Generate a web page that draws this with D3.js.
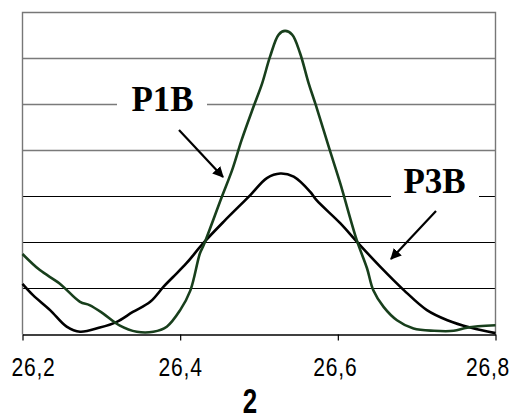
<!DOCTYPE html>
<html lang="en">
<head>
    <meta charset="UTF-8">
    <title>P1B / P3B</title>
    <script src="https://d3js.org/d3.v7.min.js"></script>
    <style>
        body {
            margin: 0;
            background-color: white;
        }

        /* no narrow font installed, so the regular sans is squeezed with scale() */
        .tick-label {
            font-family: "Liberation Sans", Arial, sans-serif;
            font-size: 26px;
            letter-spacing: 1px;
            fill: #000;
        }

        .axis-title {
            font-family: "Liberation Sans", Arial, sans-serif;
            font-size: 36px;
            font-weight: bold;
            fill: #000;
        }

        .series-label {
            font-family: "Liberation Serif", "Times New Roman", serif;
            font-size: 35px;
            font-weight: bold;
            fill: #000;
        }
    </style>
</head>
<body>
    <div id="chart"></div>

    <script>
        // P1B (green) and P3B (black)
        const p1bX = [26.200, 26.222, 26.247, 26.273, 26.285, 26.302, 26.323, 26.345, 26.366, 26.383,
                      26.400, 26.413, 26.425, 26.430, 26.453, 26.466, 26.478, 26.493, 26.504, 26.514,
                      26.525, 26.533, 26.542, 26.552, 26.563, 26.572, 26.589, 26.603, 26.624, 26.637,
                      26.645, 26.658, 26.675, 26.696, 26.722, 26.747, 26.764, 26.800];
        const p1bY = [1.75, 1.40, 1.11, 0.71, 0.64, 0.46, 0.20, 0.06, 0.06, 0.17,
                      0.53, 0.96, 1.76, 1.95, 3.00, 3.58, 4.23, 4.95, 5.46, 6.04,
                      6.52, 6.60, 6.52, 6.12, 5.46, 4.99, 4.05, 3.29, 2.05, 1.44,
                      0.96, 0.60, 0.31, 0.13, 0.08, 0.08, 0.15, 0.20];

        const p3bX = [26.200, 26.213, 26.235, 26.256, 26.273, 26.298, 26.319, 26.340, 26.362, 26.379,
                      26.391, 26.408, 26.429, 26.455, 26.489, 26.510, 26.527, 26.544, 26.565, 26.573,
                      26.603, 26.624, 26.654, 26.684, 26.713, 26.739, 26.768, 26.800];
        const p3bY = [1.10, 0.86, 0.53, 0.17, 0.06, 0.15, 0.27, 0.49, 0.71, 1.04,
                      1.25, 1.55, 1.98, 2.45, 3.03, 3.40, 3.50, 3.43, 3.10, 2.92,
                      2.42, 2.02, 1.47, 0.96, 0.53, 0.31, 0.15, 0.03];

        const xTicks = [26.2, 26.4, 26.6, 26.8];
        const xTickLabels = ["26,2", "26,4", "26,6", "26,8"];
        const yGrid = [1, 2, 3, 4, 5, 6];
        const xTitle = "2";

        const width = 513;
        const height = 416;

        const svg = d3.select("#chart").append("svg")
            .attr("width", width)
            .attr("height", height);

        const x = d3.scaleLinear()
            .domain([26.2, 26.8])
            .range([22.5, 495.5]);

        const y = d3.scaleLinear()
            .domain([0, 7])
            .range([334.5, 12.5]);

        // gridlines - the upper ones come out greyer in the original
        svg.append("g").selectAll("line")
            .data(yGrid)
            .enter().append("line")
            .attr("x1", x(26.2))
            .attr("x2", x(26.8))
            .attr("y1", d => y(d))
            .attr("y2", d => y(d))
            .attr("stroke", d => d >= 4 ? "#7a7a7a" : "#000")
            .attr("stroke-width", d => d >= 4 ? 1.6 : 1);

        // plot frame (top, left, right)
        svg.append("path")
            .attr("d", `M${x(26.2)},${y(0)}V${y(7)}H${x(26.8)}V${y(0)}`)
            .attr("fill", "none")
            .attr("stroke", "#777")
            .attr("stroke-width", 1.4);

        // labels with white boxes that break the gridlines
        const labels = [
            { text: "P1B", cx: 162.5, base: 111, x0: 117, x1: 207 },
            { text: "P3B", cx: 434.5, base: 193, x0: 391, x1: 479 }
        ];
        labels.forEach(l => {
            svg.append("rect")
                .attr("x", l.x0)
                .attr("y", l.base - 30)
                .attr("width", l.x1 - l.x0)
                .attr("height", 36)
                .attr("fill", "white");
            svg.append("text")
                .attr("class", "series-label")
                .attr("x", l.cx)
                .attr("y", l.base)
                .attr("text-anchor", "middle")
                .text(l.text);
        });

        // the two curves
        const line = d3.line()
            .x(d => x(d[0]))
            .y(d => y(d[1]))
            .curve(d3.curveCatmullRom.alpha(0.5));

        svg.append("path")
            .datum(p3bX.map((v, i) => [v, p3bY[i]]))
            .attr("d", line)
            .attr("fill", "none")
            .attr("stroke", "#000")
            .attr("stroke-width", 2.6);

        svg.append("path")
            .datum(p1bX.map((v, i) => [v, p1bY[i]]))
            .attr("d", line)
            .attr("fill", "none")
            .attr("stroke", "#183f1c")
            .attr("stroke-width", 2.6);

        // arrows
        svg.append("defs").append("marker")
            .attr("id", "head")
            .attr("viewBox", "0 0 10 10")
            .attr("refX", 9)
            .attr("refY", 5)
            .attr("markerWidth", 5)
            .attr("markerHeight", 5)
            .attr("orient", "auto")
            .append("path")
            .attr("d", "M0,0L10,5L0,10Z")
            .attr("fill", "#000");

        const arrows = [[179, 130, 223, 177], [436, 211, 391, 259]];
        svg.selectAll(".arrow")
            .data(arrows)
            .enter().append("line")
            .attr("class", "arrow")
            .attr("x1", d => d[0])
            .attr("y1", d => d[1])
            .attr("x2", d => d[2])
            .attr("y2", d => d[3])
            .attr("stroke", "#000")
            .attr("stroke-width", 2.2)
            .attr("marker-end", "url(#head)");

        // bottom axis
        const xAxis = svg.append("g")
            .attr("transform", `translate(0, ${y(0)})`)
            .call(d3.axisBottom(x)
                .tickValues(xTicks)
                .tickSize(6)
                .tickSizeOuter(0)
                .tickFormat((d, i) => xTickLabels[i]));

        xAxis.select(".domain")
            .attr("stroke", "#000")
            .attr("stroke-width", 1.5);
        xAxis.selectAll(".tick line")
            .attr("stroke", "#000")
            .attr("stroke-width", 1.2);

        // labels sit inside the picture, so the outer ones are nudged in
        const squeeze = 0.81;
        const labelShift = [10.5, 0, -3, -8];
        xAxis.selectAll(".tick text")
            .attr("class", "tick-label")
            .attr("font-family", null)
            .attr("font-size", null)
            .attr("y", 42)
            .attr("dy", null)
            .attr("x", (d, i) => labelShift[i] / squeeze)
            .attr("transform", `scale(${squeeze},1)`);

        const titleSqueeze = 0.72;
        svg.append("text")
            .attr("class", "axis-title")
            .attr("x", 250 / titleSqueeze)
            .attr("y", 413)
            .attr("text-anchor", "middle")
            .attr("transform", `scale(${titleSqueeze},1)`)
            .text(xTitle);
    </script>
</body>
</html>
